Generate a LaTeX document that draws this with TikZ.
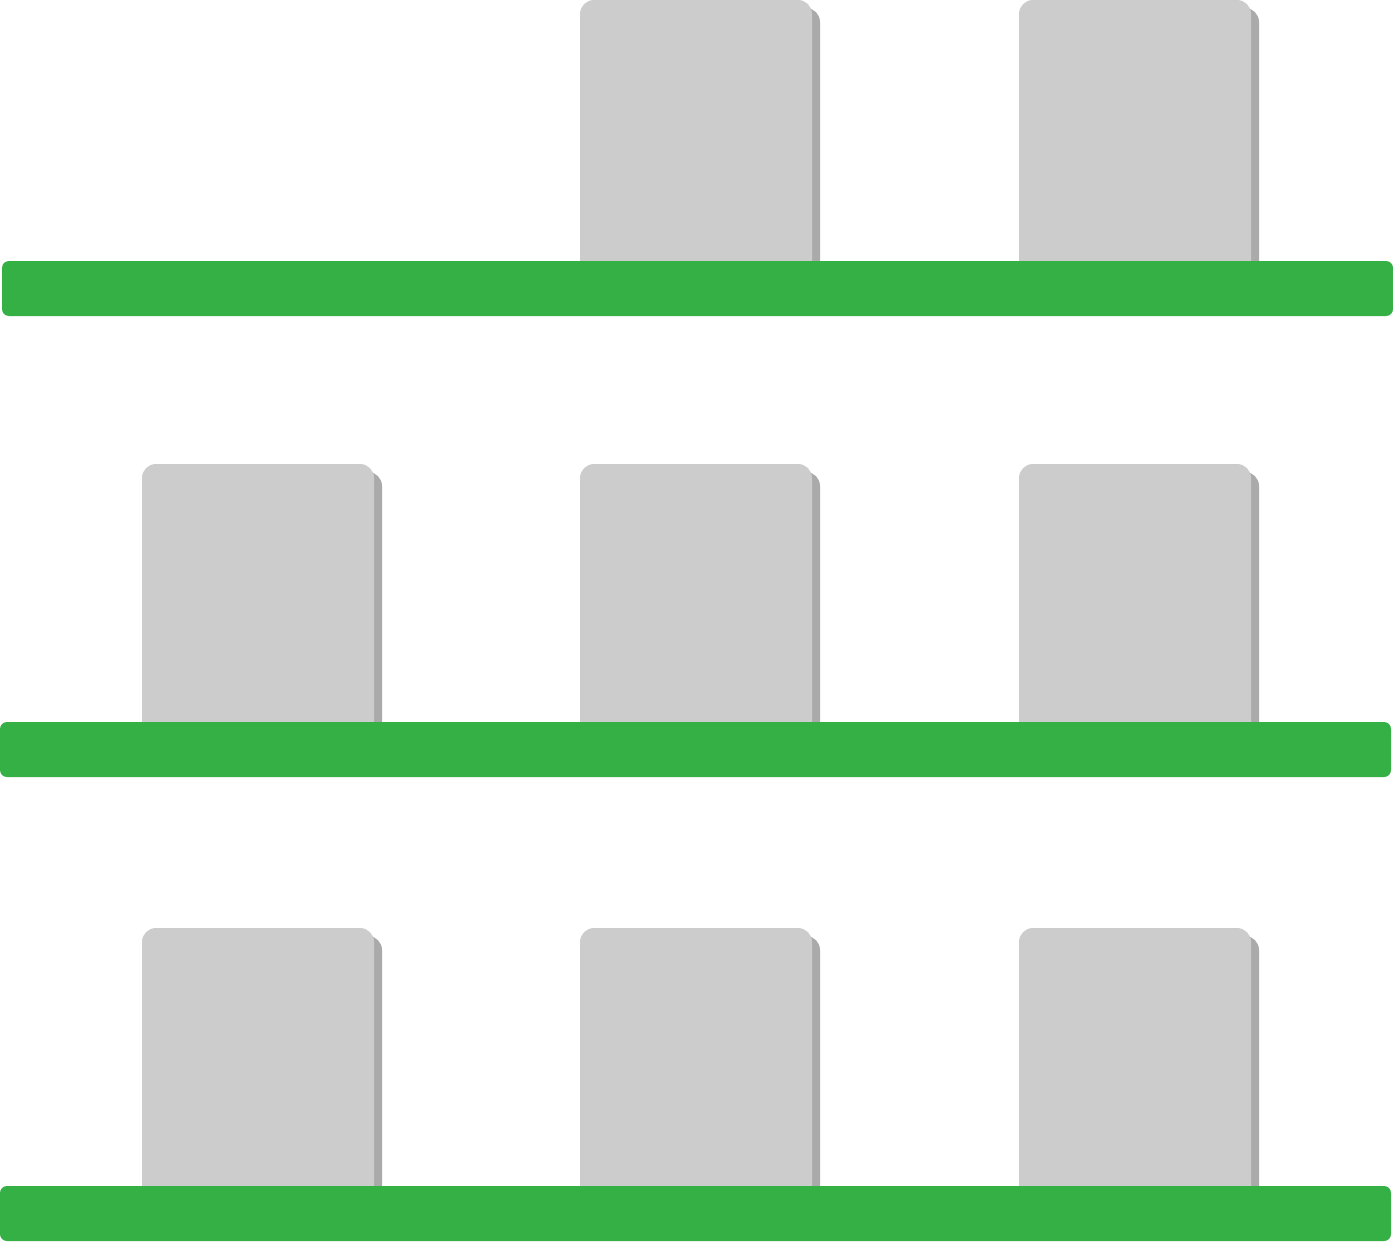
\documentclass[tikz,border=0pt]{standalone}
\usepackage{xcolor}
\usetikzlibrary{positioning}
\definecolor{boxgray}{HTML}{CCCCCC}
\definecolor{shadowgray}{HTML}{AAAAAA}
\definecolor{shelfgreen}{HTML}{34B045}
\tikzset{bin/.style={fill=boxgray,draw=none,rounded corners=14pt,
                     minimum width=232pt,minimum height=275pt,
                     inner sep=0pt,outer sep=0pt,anchor=north west},
         binshadow/.style={bin,fill=shadowgray},
         shelf/.style={fill=shelfgreen,draw=none,rounded corners=7pt,
                       minimum width=1391pt,minimum height=55pt,
                       inner sep=0pt,outer sep=0pt,anchor=north west},
         }

\begin{document}
\begin{tikzpicture}[x=1pt,y=-1pt]
\useasboundingbox (0,0) rectangle (1393,1242);
\foreach \name/\x/\y in {b12/580/0, b13/1019/0,
                         b21/142/464, b22/580/464, b23/1019/464,
                         b31/142/928, b32/580/928, b33/1019/928}
{
    \node[binshadow] (\name s) at (\x+8,\y+8) {};
    \node[bin] (\name) at (\x,\y) {};
}
\node[shelf] (shelf1) at (2,261) {};
\node[shelf] (shelf2) at (0,722) {};
\node[shelf] (shelf3) at (0,1186) {};
\end{tikzpicture}
\end{document}
